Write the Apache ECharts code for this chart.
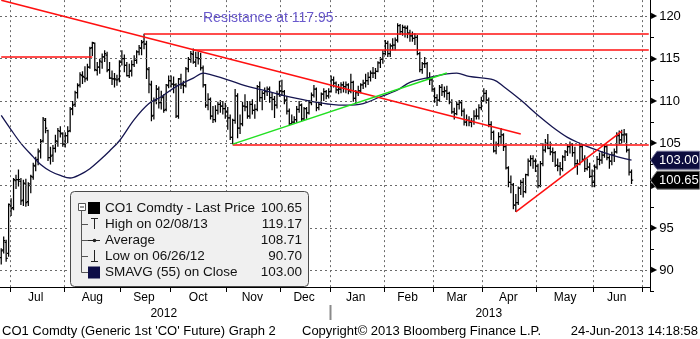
<!DOCTYPE html>
<html>
<head>
<meta charset="utf-8">
<script src="https://cdn.jsdelivr.net/npm/echarts@6/dist/echarts.min.js"></script>
<style>
  html, body { margin: 0; padding: 0; background: #ffffff; }
  #chart { width: 700px; height: 339px; }
</style>
</head>
<body>
<div id="chart"></div>
<script>
// ---- CO1 Comdty daily bars, 26 Jun 2012 – 24 Jun 2013 ----
const FONT = 'Liberation Sans';
const firstSession = '2012-06-26';
const closedDays = ['2012-12-25', '2013-01-01', '2013-03-29'];
const slotCount = 264;              // trading-day slots shown on the time axis
const monthNames = ['Jan', 'Feb', 'Mar', 'Apr', 'May', 'Jun', 'Jul', 'Aug', 'Sep', 'Oct', 'Nov', 'Dec'];

const opens = [
  91.5, 92.4, 93.3, 92.0,
  97.6, 97.4, 100.6, 100.7, 100.5, 98.3, 100.2, 98.1, 100.0, 101.0, 102.3, 103.1, 104.1, 105.3, 107.7, 106.5, 103.3, 103.6, 104.4, 105.2, 106.4, 106.1,
  104.9, 105.9, 106.5, 109.1, 109.6, 111.0, 111.9, 113.0, 112.8, 112.7, 114.0, 116.3, 116.8, 113.6, 114.0, 114.6, 115.2, 115.4, 113.7, 112.7, 112.6, 112.5, 112.6,
  114.6, 115.0, 114.2, 113.0, 113.6, 114.3, 114.8, 115.8, 116.2, 117.0, 116.7, 113.7, 111.9, 108.3, 110.1, 111.4, 109.8, 110.4, 109.0, 111.8,
  112.4, 112.0, 111.9, 108.2, 112.6, 111.9, 111.8, 113.8, 114.9, 115.5, 114.6, 115.1, 115.0, 113.9, 111.9, 109.5, 110.2, 108.2, 107.8, 108.9, 109.6, 109.4, 109.1,
  108.7, 108.0, 105.7, 107.7, 110.6, 106.8, 107.3, 109.4, 109.3, 108.2, 109.6, 108.9, 109.0, 111.7, 110.4, 110.9, 111.1, 111.4, 110.4, 110.2, 109.5, 110.8,
  111.2, 111.1, 110.1, 108.8, 107.3, 107.5, 107.8, 109.0, 109.5, 107.9, 109.1, 108.6, 109.8, 110.7, 111.4, 109.2, 109.6, 110.8, 111.1, 110.6,
  111.1, 112.5, 112.1, 111.3, 111.4, 111.9, 111.7, 111.9, 111.2, 112.2, 110.3, 111.0, 111.2, 111.9, 112.1, 112.4, 112.8, 113.3, 113.3, 113.5, 114.5, 114.9,
  115.6, 116.8, 115.6, 116.5, 116.6, 117.2, 118.9, 118.2, 118.7, 118.6, 118.0, 117.7, 117.4, 117.5, 115.6, 113.7, 114.4, 114.4, 112.7, 112.5,
  111.4, 110.4, 110.1, 111.6, 111.1, 111.2, 110.9, 109.9, 108.7, 108.5, 109.6, 109.8, 108.8, 107.5, 107.7, 107.5, 107.6, 108.2, 108.2, 109.2,
  110.0, 110.9, 110.1, 107.2, 106.3, 104.1, 104.9, 105.8, 106.0, 104.6, 102.1, 100.4, 100.1, 97.7, 98.0, 99.7, 100.4, 99.3, 101.3, 102.9, 103.2, 102.9,
  102.3, 100.0, 102.6, 104.2, 105.0, 104.4, 104.0, 103.9, 102.4, 102.3, 102.0, 103.4, 104.0, 104.6, 104.8, 103.9, 102.6, 102.6, 104.6, 103.1, 102.0, 102.2, 101.1,
  100.4, 102.2, 103.1, 103.0, 103.6, 104.6, 103.3, 102.9, 103.6, 104.0, 105.9, 105.4, 106.0, 106.0, 104.2, 101.6
];
const highs = [
  92.6, 94.0, 93.6, 97.9,
  98.5, 100.9, 101.3, 101.9, 100.9, 100.7, 100.8, 100.4, 101.3, 102.7, 103.4, 104.4, 105.5, 108.1, 108.0, 106.6, 104.6, 104.8, 106.0, 106.8, 107.0, 106.3,
  106.3, 107.0, 109.3, 110.0, 111.2, 112.1, 113.4, 113.5, 114.1, 114.4, 116.4, 117.0, 116.9, 114.6, 115.0, 115.6, 116.0, 115.8, 114.6, 113.6, 113.3, 113.1, 114.8,
  116.0, 115.5, 114.6, 114.4, 114.8, 115.4, 116.0, 116.6, 117.2, 117.95, 117.1, 114.0, 112.4, 110.4, 111.9, 111.7, 111.2, 110.8, 112.0, 113.0,
  113.0, 112.9, 112.1, 112.7, 113.2, 112.4, 114.0, 115.2, 115.9, 116.2, 115.8, 115.8, 115.7, 114.2, 112.0, 110.9, 110.4, 109.4, 109.5, 109.9, 110.1, 110.0, 109.8,
  109.3, 108.4, 107.9, 111.4, 110.9, 108.4, 109.9, 110.8, 110.0, 110.0, 110.2, 109.6, 111.9, 112.3, 111.2, 111.6, 111.7, 111.7, 111.0, 110.6, 111.2, 112.4,
  112.5, 111.3, 110.6, 109.1, 108.4, 108.2, 109.4, 110.0, 109.7, 109.3, 109.3, 110.1, 111.0, 111.9, 111.6, 109.9, 111.0, 111.5, 111.3, 111.5,
  113.0, 112.9, 112.3, 112.0, 112.2, 112.3, 112.3, 112.1, 113.2, 112.4, 111.3, 111.8, 112.1, 112.5, 113.2, 113.4, 113.6, 114.0, 113.9, 114.7, 115.2, 116.0,
  117.2, 117.1, 116.8, 117.4, 117.5, 119.17, 119.1, 119.0, 118.9, 118.9, 118.4, 118.2, 118.0, 117.8, 115.8, 114.6, 115.2, 114.6, 113.4, 112.8,
  111.6, 110.8, 111.9, 112.0, 111.7, 111.8, 111.1, 110.2, 109.2, 109.9, 110.1, 110.1, 109.1, 108.4, 108.2, 108.0, 108.9, 109.1, 109.6, 110.5,
  111.5, 111.3, 110.4, 107.6, 106.5, 105.2, 106.3, 106.8, 106.2, 104.8, 102.3, 101.2, 100.3, 99.0, 99.9, 100.7, 100.9, 101.4, 103.2, 103.6, 103.6, 103.2,
  102.6, 102.9, 105.0, 105.5, 106.1, 105.2, 104.5, 104.1, 103.2, 102.8, 103.6, 104.2, 104.9, 105.2, 105.0, 104.6, 103.1, 105.0, 104.8, 103.6, 103.2, 102.7, 101.9,
  102.5, 103.5, 103.9, 104.1, 104.8, 104.8, 103.6, 104.0, 104.4, 106.3, 106.5, 106.6, 106.7, 106.2, 104.4, 101.9
];
const lows = [
  90.70, 92.0, 91.0, 91.6,
  96.4, 97.1, 99.6, 99.9, 97.7, 97.6, 97.5, 97.6, 99.1, 100.7, 101.7, 102.4, 103.2, 105.1, 106.2, 102.9, 102.5, 102.8, 103.9, 104.6, 105.7, 104.6,
  104.5, 105.0, 106.3, 108.3, 109.3, 110.3, 111.6, 112.0, 112.2, 112.4, 113.8, 115.3, 113.5, 113.0, 113.2, 113.8, 114.6, 113.4, 112.6, 111.9, 111.6, 111.8, 112.2,
  114.2, 113.4, 112.9, 112.7, 112.9, 114.0, 114.4, 115.4, 115.4, 116.1, 112.6, 110.9, 107.6, 107.8, 109.6, 109.1, 109.0, 108.6, 108.8, 111.5,
  111.6, 110.9, 108.0, 107.9, 111.4, 110.9, 111.6, 113.4, 114.5, 114.4, 114.0, 114.3, 113.6, 111.6, 109.2, 108.9, 107.8, 107.4, 107.5, 108.4, 108.6, 108.4, 107.9,
  106.6, 105.4, 104.9, 107.3, 105.6, 106.1, 107.0, 108.8, 107.9, 107.9, 108.4, 107.9, 108.8, 109.9, 108.9, 110.1, 110.6, 109.8, 108.9, 108.0, 109.1, 110.5,
  110.6, 109.6, 108.4, 107.1, 107.2, 107.3, 107.4, 108.6, 107.6, 107.7, 107.9, 108.4, 109.5, 110.4, 108.8, 108.9, 109.4, 110.0, 110.2, 110.3,
  111.0, 111.6, 110.9, 110.8, 110.9, 111.0, 110.9, 110.8, 110.9, 109.9, 109.7, 110.6, 110.9, 111.4, 111.6, 111.9, 112.3, 112.7, 112.6, 113.4, 113.9, 114.4,
  115.4, 115.2, 115.2, 116.0, 116.0, 116.9, 117.8, 117.7, 117.5, 117.4, 117.0, 117.0, 116.6, 115.4, 113.4, 113.2, 113.9, 112.5, 111.9, 111.1,
  109.8, 109.4, 109.9, 110.6, 110.4, 110.1, 109.6, 108.5, 107.8, 108.3, 109.0, 108.2, 107.1, 107.0, 107.0, 106.9, 107.2, 107.8, 107.8, 108.9,
  109.9, 109.7, 106.9, 105.4, 103.9, 103.7, 104.6, 105.0, 104.1, 101.9, 99.8, 99.1, 97.2, 96.9, 97.7, 98.9, 98.6, 99.1, 101.1, 102.3, 102.0, 101.6,
  99.7, 99.8, 102.3, 103.9, 104.3, 103.6, 102.8, 102.2, 101.7, 101.2, 101.7, 102.9, 103.5, 103.8, 103.4, 102.1, 101.3, 102.4, 102.8, 101.6, 101.8, 100.9, 99.8,
  99.8, 101.9, 102.4, 102.6, 103.3, 103.0, 102.0, 102.4, 102.8, 103.8, 104.9, 105.0, 105.1, 103.9, 101.2, 100.2
];
const closes = [
  92.3, 93.5, 91.4, 97.8,
  97.3, 100.7, 100.7, 100.7, 98.2, 100.3, 98.0, 100.2, 101.1, 102.4, 103.0, 104.0, 105.2, 107.9, 106.8, 103.3, 103.5, 104.4, 105.3, 106.5, 106.2, 104.9,
  105.9, 106.4, 109.0, 109.5, 111.0, 111.8, 113.1, 112.9, 112.6, 114.0, 116.2, 116.9, 113.7, 114.0, 114.7, 115.2, 115.6, 113.6, 112.7, 112.6, 112.6, 112.5, 114.6,
  115.0, 114.2, 113.0, 113.5, 114.3, 114.8, 115.8, 116.3, 116.9, 116.7, 113.8, 112.0, 108.2, 110.0, 111.4, 109.8, 110.5, 108.9, 111.9, 112.4,
  112.0, 111.9, 108.2, 112.6, 111.9, 111.8, 113.8, 114.9, 115.6, 114.6, 115.1, 115.0, 113.9, 111.9, 109.5, 110.2, 108.2, 107.8, 108.9, 109.6, 109.4, 109.1, 108.7,
  108.0, 105.7, 107.7, 110.6, 106.8, 107.3, 109.4, 109.3, 108.2, 109.6, 108.9, 109.0, 111.7, 110.4, 110.9, 111.1, 111.4, 110.4, 110.2, 109.5, 110.8, 111.2,
  111.1, 110.1, 108.8, 107.3, 107.5, 107.8, 109.0, 109.5, 107.9, 109.1, 108.6, 109.8, 110.7, 111.4, 109.2, 109.6, 110.8, 111.1, 110.6, 111.1,
  112.5, 112.1, 111.3, 111.4, 111.9, 111.7, 111.9, 111.2, 112.2, 110.3, 111.0, 111.2, 111.9, 112.1, 112.4, 112.8, 113.3, 113.3, 113.5, 114.5, 114.9, 115.6,
  116.8, 115.6, 116.5, 116.6, 117.2, 118.9, 118.2, 118.7, 118.6, 118.0, 117.7, 117.4, 117.5, 115.6, 113.7, 114.4, 114.4, 112.7, 112.5, 111.4,
  110.4, 110.1, 111.6, 111.1, 111.2, 110.9, 109.9, 108.7, 108.5, 109.6, 109.8, 108.8, 107.5, 107.7, 107.5, 107.6, 108.2, 108.2, 109.2, 110.0,
  110.9, 110.1, 107.2, 106.3, 104.1, 104.9, 105.8, 106.0, 104.6, 102.1, 100.4, 100.1, 97.7, 98.0, 99.7, 100.4, 99.3, 101.3, 102.9, 103.2, 102.9, 102.3,
  100.0, 102.6, 104.2, 105.0, 104.4, 104.0, 103.9, 102.4, 102.3, 102.0, 103.4, 104.0, 104.6, 104.8, 103.9, 102.6, 102.6, 104.6, 103.1, 102.0, 102.2, 101.1, 100.4,
  102.2, 103.1, 103.0, 103.6, 104.6, 103.3, 102.9, 103.6, 104.0, 105.9, 105.4, 106.0, 106.1, 104.2, 101.6, 100.65
];

// 55-day simple moving average of the close, sampled along the curve
const smaIndex = [0, 4, 8, 13, 16, 20, 24, 28, 32, 36, 40, 44, 48, 54, 60, 65, 71, 78, 82, 85, 92, 99, 106, 114, 120, 127,
  134, 140, 147, 154, 161, 166, 174, 181, 185, 190, 200, 204, 211, 218, 224, 230, 235, 240, 247, 256];
const smaValue = [108.3, 106.6, 105.0, 103.4, 102.5, 101.7, 101.2, 100.9, 101.3, 102.0, 103.0, 104.1, 105.3, 107.8, 109.7, 110.5, 111.7, 112.7, 113.3, 113.1, 112.5, 111.8, 111.3, 110.7, 110.3, 109.9,
  109.6, 109.5, 109.7, 110.5, 111.3, 112.2, 112.8, 113.2, 113.3, 112.9, 112.5, 111.7, 110.1, 108.3, 106.9, 105.7, 105.0, 104.4, 103.7, 103.00];

const priceTicks = [90, 95, 100, 105, 110, 115, 120];
const averagePrice = 108.71;
const resistanceLevel = 117.95;

// Drawn trend / support lines: [[slotIndex, price], [slotIndex, price]]
const redSegments = [
  [[0, 121.9], [211, 106.1]],
  [[0, 115.2], [37, 115.2]],
  [[58, resistanceLevel], [263, resistanceLevel]],
  [[78, 116.0], [263, 116.0]],
  [[94, 104.85], [263, 104.85]],
  [[209, 96.9], [252, 106.4]]
];
const greenSegments = [
  [[94, 104.9], [181, 113.3]]
];

// ---- trading calendar for the category axis ----
const categories = [];
{
  const d = new Date(firstSession + 'T00:00:00Z');
  while (categories.length < slotCount) {
    const wd = d.getUTCDay();
    const s = d.toISOString().slice(0, 10);
    if (wd !== 0 && wd !== 6 && closedDays.indexOf(s) < 0) categories.push(s);
    d.setUTCDate(d.getUTCDate() + 1);
  }
}
const monthStarts = [];
const yearStarts = [];
for (let i = 1; i < categories.length; i++) {
  if (categories[i].slice(0, 7) !== categories[i - 1].slice(0, 7)) monthStarts.push(i);
  if (categories[i].slice(0, 4) !== categories[i - 1].slice(0, 4)) yearStarts.push(i);
}
const monthStartSet = new Set(monthStarts);
const monthLabelAt = new Map();
for (let k = 0; k + 1 < monthStarts.length; k++) {
  const s = monthStarts[k], e = monthStarts[k + 1];
  monthLabelAt.set(Math.floor((s + e - 1) / 2), monthNames[+categories[s].slice(5, 7) - 1]);
}
const yearLabelAt = new Map();
{
  const bounds = [0].concat(yearStarts, [categories.length]);
  for (let k = 0; k + 1 < bounds.length; k++) {
    yearLabelAt.set(Math.floor((bounds[k] + bounds[k + 1] - 1) / 2), categories[bounds[k]].slice(0, 4));
  }
}

const bars = closes.map((c, i) => [i, opens[i], highs[i], lows[i], c]);
const smaData = smaIndex.map((i, k) => [i, smaValue[k]]);

// ---- summary figures for the legend ----
const lastIdx = closes.length - 1;
let hiIdx = 0, loIdx = 0;
highs.forEach((v, i) => { if (v > highs[hiIdx]) hiIdx = i; });
lows.forEach((v, i) => { if (v < lows[loIdx]) loIdx = i; });
const shortDate = s => s.slice(5, 7) + '/' + s.slice(8, 10) + '/' + s.slice(2, 4);

const chart = echarts.init(document.getElementById('chart'), null, { renderer: 'canvas' });

const dashed = { type: [2, 3], color: '#6a6a6a', width: 1 };

chart.setOption({
  animation: false,
  backgroundColor: '#ffffff',
  textStyle: { fontFamily: FONT },
  grid: { left: 0, right: 50, top: -4.87, bottom: 47.52, containLabel: false, outerBoundsMode: 'none' },
  xAxis: [{
    type: 'category',
    data: categories,
    boundaryGap: true,
    position: 'bottom',
    offset: -4.48,
    axisLine: { show: true, lineStyle: { color: '#000', width: 1 } },
    axisTick: { show: true, interval: (i) => monthStartSet.has(i), length: 5, lineStyle: { color: '#000' } },
    axisLabel: {
      interval: (i) => monthLabelAt.has(i),
      formatter: (v, i) => monthLabelAt.get(i) || '',
      fontFamily: FONT, fontSize: 12, color: '#000', margin: 5
    },
    splitLine: { show: true, interval: (i) => monthStartSet.has(i), lineStyle: dashed }
  }, {
    type: 'category',
    data: categories,
    boundaryGap: true,
    position: 'bottom',
    offset: 0,
    axisLine: { show: false },
    axisTick: { show: false },
    splitLine: { show: false },
    axisLabel: {
      interval: (i) => yearLabelAt.has(i),
      formatter: (v, i) => yearLabelAt.get(i) || '',
      fontFamily: FONT, fontSize: 12, color: '#000', margin: 16
    }
  }],
  yAxis: {
    type: 'value',
    position: 'right',
    min: 87.5,
    max: 122.5,
    interval: 2.5,
    axisLine: { show: true, lineStyle: { color: '#000', width: 1 } },
    axisTick: { show: true, length: 4, lineStyle: { color: '#000' } },
    splitLine: { show: false },
    axisLabel: {
      margin: 1,
      formatter: (v) => (Math.abs(v % 5) < 1e-9 ? '{t|\u25B6}{n|' + v + '}' : ''),
      rich: {
        t: { fontFamily: 'DejaVu Sans', fontSize: 8, color: '#000', padding: [0, 2, 0, 0] },
        n: { fontFamily: FONT, fontSize: 13, color: '#000' }
      }
    }
  },
  series: [
    {
      name: 'grid',
      type: 'line',
      data: [],
      z: 1,
      silent: true,
      markLine: {
        silent: true, symbol: 'none', animation: false,
        label: { show: false },
        lineStyle: dashed,
        data: priceTicks.map(v => ({ yAxis: v }))
      }
    },
    {
      name: 'CO1 Comdty',
      type: 'custom',
      z: 2,
      clip: true,
      encode: { x: 0, y: [1, 2, 3, 4] },
      data: bars,
      renderItem: (params, api) => {
        const i = api.value(0);
        const pO = api.coord([i, api.value(1)]);
        const pH = api.coord([i, api.value(2)]);
        const pL = api.coord([i, api.value(3)]);
        const pC = api.coord([i, api.value(4)]);
        const x = pH[0];
        const st = { stroke: '#000', lineWidth: 1.25 };
        return {
          type: 'group',
          children: [
            { type: 'line', shape: { x1: x, y1: pH[1], x2: x, y2: pL[1] }, style: st },
            { type: 'line', shape: { x1: x - 1.6, y1: pO[1], x2: x, y2: pO[1] }, style: st },
            { type: 'line', shape: { x1: x, y1: pC[1], x2: x + 1.6, y2: pC[1] }, style: st }
          ]
        };
      }
    },
    {
      name: 'SMAVG (55)',
      type: 'line',
      z: 3,
      data: smaData,
      connectNulls: true,
      smooth: 0.35,
      symbol: 'none',
      lineStyle: { color: '#151550', width: 1.3 }
    },
    {
      name: 'trend red',
      type: 'line',
      data: [],
      z: 4,
      silent: true,
      markLine: {
        silent: true, symbol: 'none', animation: false,
        label: { show: false },
        lineStyle: { type: 'solid', color: '#ff1010', width: 1.5 },
        data: redSegments.map(s => [{ coord: s[0] }, { coord: s[1] }])
      }
    },
    {
      name: 'trend green',
      type: 'line',
      data: [],
      z: 4,
      silent: true,
      markLine: {
        silent: true, symbol: 'none', animation: false,
        label: { show: false },
        lineStyle: { type: 'solid', color: '#22e022', width: 1.5 },
        data: greenSegments.map(s => [{ coord: s[0] }, { coord: s[1] }])
      }
    }
  ]
});

// ---- overlays: value tags, year divider, legend panel, captions ----
const g = [];
const txt = (x, y, text, opts) => Object.assign({
  type: 'text', x: x, y: y, z: 50,
  style: Object.assign({ text: text, fill: '#000', fontFamily: FONT, fontSize: 13, verticalAlign: 'middle' }, opts || {})
});

function valueTag(value, fill, stroke) {
  const y = chart.convertToPixel({ yAxisIndex: 0 }, value);
  g.push({ type: 'polygon', z: 60, shape: { points: [[650.5, y], [657, y - 9], [699.5, y - 9], [699.5, y + 9], [657, y + 9]] },
    style: { fill: fill, stroke: stroke, lineWidth: 1 } });
  g.push(Object.assign(txt(659, y + 0.5, value.toFixed(2), { fill: '#ffffff', fontSize: 13 }), { z: 61 }));
}
valueTag(smaValue[smaValue.length - 1], '#0c0c3e', '#6a6a90');
valueTag(closes[lastIdx], '#000000', '#777777');

// year divider on the time axis
{
  const j = yearStarts[0];
  const band = chart.convertToPixel({ xAxisIndex: 0 }, j + 1) - chart.convertToPixel({ xAxisIndex: 0 }, j);
  const x = Math.round(chart.convertToPixel({ xAxisIndex: 0 }, j) - band / 2) + 0.5;
  g.push({ type: 'line', z: 50, shape: { x1: x, y1: 305, x2: x, y2: 320 }, style: { stroke: '#8a8a8a', lineWidth: 2 } });
}

// annotation text
g.push(txt(203, 18, 'Resistance at ' + resistanceLevel.toFixed(2), { fill: '#6a5acd', fontSize: 14 }));

// legend panel
g.push({ type: 'rect', z: 40, shape: { x: 70.5, y: 191.5, width: 238, height: 95, r: 4 },
  style: { fill: '#f0f0f0', stroke: '#4a4a4a', lineWidth: 1 } });
g.push({ type: 'rect', z: 41, shape: { x: 78.5, y: 203.5, width: 7, height: 7 }, style: { fill: '#ffffff', stroke: '#555', lineWidth: 1 } });
g.push({ type: 'line', z: 42, shape: { x1: 80, y1: 207, x2: 84, y2: 207 }, style: { stroke: '#333', lineWidth: 1 } });
g.push({ type: 'line', z: 41, shape: { x1: 81.5, y1: 211, x2: 81.5, y2: 272.5 }, style: { stroke: '#555', lineWidth: 1 } });
[224, 240, 256, 272].forEach(y => g.push({ type: 'line', z: 41, shape: { x1: 81.5, y1: y + 0.5, x2: 88, y2: y + 0.5 }, style: { stroke: '#555', lineWidth: 1 } }));
g.push({ type: 'rect', z: 41, shape: { x: 88, y: 202, width: 12, height: 12 }, style: { fill: '#000' } });
g.push({ type: 'line', z: 41, shape: { x1: 91, y1: 218.5, x2: 98, y2: 218.5 }, style: { stroke: '#222', lineWidth: 1 } });
g.push({ type: 'line', z: 41, shape: { x1: 94.5, y1: 218.5, x2: 94.5, y2: 229 }, style: { stroke: '#222', lineWidth: 1 } });
g.push({ type: 'line', z: 41, shape: { x1: 88, y1: 240.5, x2: 100, y2: 240.5 }, style: { stroke: '#222', lineWidth: 1 } });
g.push({ type: 'circle', z: 42, shape: { cx: 94.5, cy: 240.5, r: 1.8 }, style: { fill: '#222' } });
g.push({ type: 'line', z: 41, shape: { x1: 94.5, y1: 250, x2: 94.5, y2: 261.5 }, style: { stroke: '#222', lineWidth: 1 } });
g.push({ type: 'line', z: 41, shape: { x1: 91, y1: 261.5, x2: 98, y2: 261.5 }, style: { stroke: '#222', lineWidth: 1 } });
g.push({ type: 'rect', z: 41, shape: { x: 88, y: 266.5, width: 12, height: 12 }, style: { fill: '#0e0e48' } });

const legendRows = [
  ['CO1 Comdty - Last Price', closes[lastIdx].toFixed(2)],
  ['High on ' + shortDate(categories[hiIdx]), highs[hiIdx].toFixed(2)],
  ['Average', averagePrice.toFixed(2)],
  ['Low on ' + shortDate(categories[loIdx]), lows[loIdx].toFixed(2)],
  ['SMAVG (55) on Close', smaValue[smaValue.length - 1].toFixed(2)]
];
legendRows.forEach((r, k) => {
  const y = 208 + k * 16;
  g.push(txt(105, y, r[0], { fontSize: 13.5, fill: '#111' }));
  g.push(txt(302, y, r[1], { fontSize: 13.5, fill: '#111', align: 'right' }));
});

// captions
g.push(txt(2, 331, "CO1 Comdty (Generic 1st 'CO' Future) Graph 2", { fontSize: 13 }));
g.push(txt(302, 331, 'Copyright\u00A9 2013 Bloomberg Finance L.P.', { fontSize: 13 }));
g.push(txt(698, 331, '24-Jun-2013 14:18:58', { fontSize: 13, align: 'right' }));

chart.setOption({ graphic: g });
</script>
</body>
</html>
